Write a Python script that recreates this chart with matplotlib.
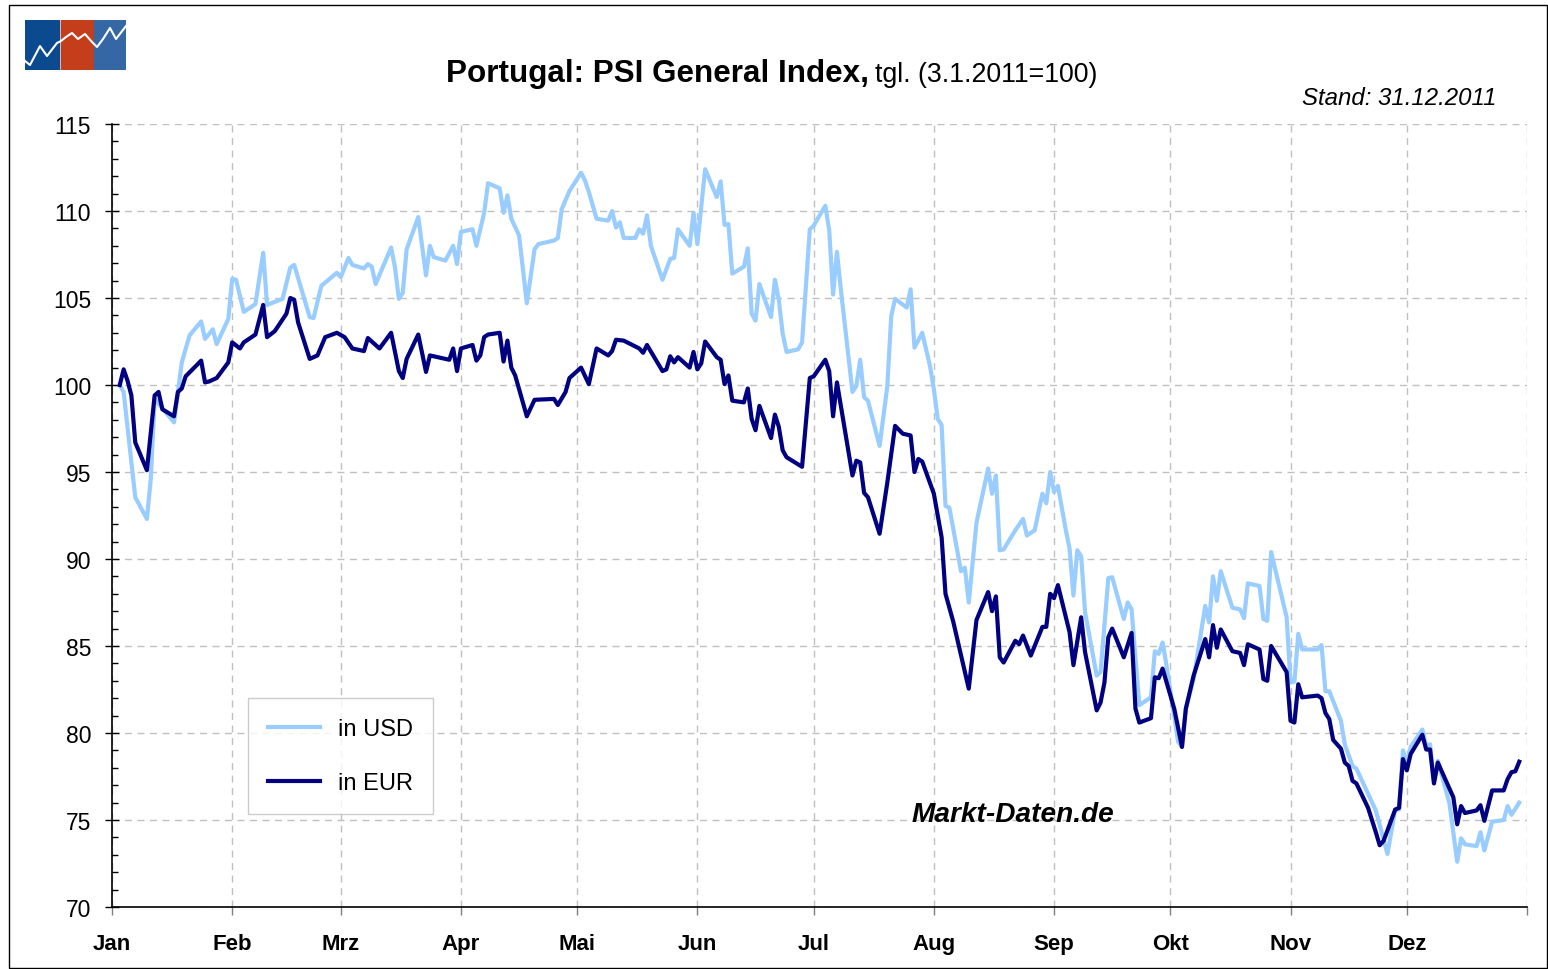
import numpy as np
import matplotlib
matplotlib.use('Agg')
import matplotlib.pyplot as plt
from matplotlib.patches import Rectangle

plt.rcParams['font.family'] = ['Liberation Sans', 'DejaVu Sans']

# day offsets from 1 Jan 2011 (3.1.2011 = 100)
usd_days = [2, 3, 6, 9, 10, 11, 16, 18, 20, 23, 24, 26, 27, 30, 31, 32, 34, 37, 39, 40,
            44, 46, 47, 51, 52, 54, 58, 59, 61, 62, 65, 66, 67, 68, 72, 73, 74, 75, 76, 79,
            81, 82, 83, 86, 88, 89, 90, 93, 94, 96, 97, 100, 101, 102, 103, 105, 107, 109, 110, 114,
            115, 116, 118, 121, 122, 123, 125, 128, 129, 130, 131, 132, 135, 136, 137, 138, 139, 142, 144, 145,
            146, 149, 150, 151, 153, 156, 157, 158, 159, 160, 163, 164, 165, 166, 167, 170, 171, 172, 173, 174,
            177, 178, 180, 181, 182, 184, 185, 186, 187, 188, 191, 192, 193, 194, 195, 198, 200, 201, 202, 205,
            206, 207, 209, 211, 212, 213, 214, 215, 216, 219, 220, 221, 223, 226, 227, 228, 229, 230, 233, 235,
            236, 238, 240, 241, 242, 243, 244, 246, 247, 248, 249, 250, 251, 254, 255, 257, 258, 261, 262, 263,
            265, 268, 269, 270, 271, 272, 275, 276, 277, 279, 282, 283, 284, 285, 286, 289, 291, 292, 293, 296,
            297, 298, 299, 303, 304, 305, 306, 307, 311, 312, 313, 314, 317, 318, 320, 321, 326, 329, 331, 332,
            333, 334, 335, 338, 339, 340, 341, 342, 345, 347, 348, 349, 352, 353, 354, 356, 359, 360, 361, 363]
usd = [100.0, 99.6, 93.55, 92.3, 94.6, 99.2, 97.85, 101.3, 102.85, 103.65, 102.65, 103.2, 102.35, 103.8, 106.1, 106.05, 104.2, 104.65, 107.6, 104.6,
       104.95, 106.75, 106.9, 103.9, 103.85, 105.7, 106.45, 106.2, 107.3, 106.9, 106.7, 106.95, 106.8, 105.8, 107.9, 106.75, 104.95, 105.3, 107.8, 109.65,
       106.3, 108.0, 107.35, 107.15, 108.0, 106.95, 108.8, 108.95, 108.0, 109.9, 111.6, 111.3, 109.9, 110.9, 109.55, 108.6, 104.7, 107.8, 108.1, 108.3,
       108.45, 110.1, 111.15, 112.2, 111.75, 111.1, 109.55, 109.45, 110.0, 109.05, 109.35, 108.45, 108.45, 108.95, 108.7, 109.75, 108.0, 106.05, 107.25, 107.3,
       108.95, 108.0, 109.9, 108.1, 112.4, 110.8, 111.7, 109.2, 109.25, 106.4, 106.8, 107.85, 104.1, 103.7, 105.8, 103.9, 106.05, 104.9, 102.95, 101.9,
       102.05, 102.45, 108.95, 109.15, 109.55, 110.3, 108.9, 105.2, 107.65, 105.5, 99.6, 99.95, 101.45, 99.3, 99.1, 96.5, 99.95, 103.95, 104.95, 104.45,
       105.5, 102.15, 103.0, 101.1, 99.75, 98.05, 97.7, 93.05, 92.95, 89.3, 89.5, 87.5, 92.1, 95.2, 93.75, 94.8, 90.5, 90.55, 91.65, 92.3,
       91.35, 91.65, 93.75, 93.2, 95.0, 93.85, 94.2, 91.7, 90.6, 87.9, 90.5, 90.15, 86.95, 83.3, 83.5, 88.9, 88.95, 86.55, 87.5, 87.1,
       81.6, 82.05, 84.7, 84.55, 85.2, 83.9, 79.5, 79.2, 81.4, 83.1, 87.3, 86.35, 89.0, 87.6, 89.3, 87.2, 87.1, 86.6, 88.6, 88.45,
       86.55, 86.45, 90.4, 86.65, 82.9, 82.95, 85.7, 84.8, 84.8, 85.05, 82.4, 82.4, 80.7, 79.35, 78.1, 77.95, 75.55, 73.05, 75.6, 75.6,
       79.0, 78.2, 79.2, 80.2, 79.25, 79.35, 77.2, 78.4, 75.95, 72.6, 73.95, 73.6, 73.5, 74.3, 73.25, 74.9, 75.0, 75.8, 75.3, 76.0]

eur_days = [2, 3, 4, 5, 6, 9, 11, 12, 13, 16, 17, 18, 19, 23, 24, 25, 27, 30, 31, 33,
            34, 37, 39, 40, 42, 45, 46, 47, 48, 51, 53, 55, 58, 60, 62, 65, 66, 67, 69, 72,
            74, 75, 76, 79, 81, 82, 87, 88, 89, 90, 93, 94, 95, 96, 97, 100, 101, 102, 103, 104,
            107, 109, 114, 115, 117, 118, 121, 123, 125, 128, 129, 130, 132, 136, 137, 138, 142, 143, 144, 145,
            146, 149, 150, 151, 152, 153, 156, 157, 158, 159, 160, 163, 164, 165, 166, 167, 170, 171, 172, 173,
            174, 178, 180, 181, 184, 185, 186, 187, 191, 192, 193, 194, 195, 198, 200, 202, 204, 206, 207, 208,
            209, 212, 214, 215, 217, 221, 223, 226, 227, 228, 229, 230, 233, 234, 235, 237, 240, 241, 242, 243,
            244, 247, 248, 250, 251, 254, 255, 256, 257, 258, 261, 263, 264, 265, 268, 269, 270, 271, 274, 276,
            277, 279, 282, 283, 284, 285, 286, 289, 291, 292, 293, 296, 297, 298, 299, 303, 304, 305, 306, 307,
            311, 312, 313, 314, 315, 317, 318, 319, 320, 321, 324, 326, 327, 328, 331, 332, 333, 334, 335, 338,
            339, 340, 341, 342, 346, 347, 348, 349, 352, 353, 354, 356, 359, 360, 361, 362, 363]
eur = [100.0, 100.9, 100.25, 99.4, 96.7, 95.1, 99.4, 99.6, 98.6, 98.2, 99.6, 99.8, 100.5, 101.4, 100.15, 100.2, 100.4, 101.3, 102.45, 102.1,
       102.45, 102.9, 104.6, 102.75, 103.1, 104.1, 105.0, 104.9, 103.6, 101.5, 101.7, 102.75, 103.0, 102.75, 102.1, 101.95, 102.7, 102.5, 102.1, 103.0,
       100.8, 100.4, 101.5, 102.9, 100.75, 101.7, 101.45, 102.1, 100.8, 102.1, 102.3, 101.4, 101.7, 102.75, 102.9, 103.0, 101.35, 102.55, 101.0, 100.55,
       98.2, 99.15, 99.2, 98.85, 99.6, 100.4, 101.0, 100.05, 102.1, 101.7, 101.95, 102.6, 102.55, 102.1, 101.85, 102.3, 100.8, 100.9, 101.65, 101.3,
       101.6, 101.0, 101.9, 100.9, 101.25, 102.5, 101.6, 101.45, 100.05, 100.55, 99.1, 99.0, 99.8, 98.05, 97.4, 98.8, 96.95, 98.3, 97.6, 96.25,
       95.85, 95.3, 100.4, 100.5, 101.45, 100.8, 98.2, 100.15, 94.8, 95.65, 95.55, 93.8, 93.55, 91.45, 94.4, 97.65, 97.2, 97.1, 95.0, 95.75,
       95.6, 93.75, 91.25, 88.0, 86.4, 82.55, 86.5, 88.1, 87.0, 87.85, 84.35, 84.05, 85.3, 85.1, 85.6, 84.45, 86.1, 86.1, 88.0, 87.75,
       88.5, 85.8, 83.9, 86.65, 84.65, 81.3, 81.75, 82.9, 85.5, 86.0, 84.35, 85.75, 81.4, 80.6, 80.85, 83.2, 83.15, 83.7, 81.4, 79.2,
       81.4, 83.3, 85.4, 84.35, 86.2, 84.9, 85.95, 84.7, 84.6, 83.9, 85.1, 84.8, 83.1, 83.0, 85.0, 83.5, 80.7, 80.6, 82.8, 82.05,
       82.15, 82.0, 81.15, 80.8, 79.6, 79.1, 78.3, 78.1, 77.25, 77.1, 75.7, 74.3, 73.55, 73.8, 75.6, 75.7, 78.5, 77.85, 78.8, 79.9,
       79.05, 79.05, 77.1, 78.3, 76.3, 74.75, 75.8, 75.4, 75.55, 75.85, 74.95, 76.7, 76.7, 77.35, 77.75, 77.8, 78.35]

months = ['Jan', 'Feb', 'Mrz', 'Apr', 'Mai', 'Jun', 'Jul', 'Aug', 'Sep', 'Okt', 'Nov', 'Dez']
yticks = [70, 75, 80, 85, 90, 95, 100, 105, 110, 115]

start = np.datetime64('2011-01-01')
usd_dates = start + np.array(usd_days, dtype='timedelta64[D]')
eur_dates = start + np.array(eur_days, dtype='timedelta64[D]')
month_starts = np.arange('2011-01', '2012-02', dtype='datetime64[M]').astype('datetime64[D]')

W, H = 1548, 970
fig = plt.figure(figsize=(W / 100, H / 100), dpi=100)
ax = fig.add_axes([112 / W, 1 - 908 / H, (1527 - 112) / W, (908 - 125) / H])

ax.plot(usd_dates, usd, color='#99CCFF', lw=3, label='in USD', zorder=3)
ax.plot(eur_dates, eur, color='#000080', lw=3, label='in EUR', zorder=4)

ax.set_xlim(month_starts[0], month_starts[-1])
ax.set_ylim(70, 115)
ax.set_yticks(yticks)
ax.set_yticks(np.arange(70, 116, 1), minor=True)
ax.set_xticks(month_starts)
ax.set_xticklabels(months + [''], fontweight='bold')
ax.tick_params(axis='y', which='major', direction='inout', length=10, width=1, labelsize=16.5, pad=10)
ax.tick_params(axis='y', which='minor', direction='in', length=4.5, width=1)
ax.tick_params(axis='x', which='major', direction='out', length=6, width=1, labelsize=16, pad=13, color='#808080')

ax.grid(True, which='major', color='#C0C0C0', linestyle=(0, (5, 4)), linewidth=1)
ax.set_axisbelow(True)
for s in ['top', 'right']:
    ax.spines[s].set_visible(False)
for s in ['left', 'bottom']:
    ax.spines[s].set_linewidth(1.2)

leg = ax.legend(loc='lower left', bbox_to_anchor=((248 - 112) / 1415, (908 - 815) / 783),
                fontsize=17, frameon=True, fancybox=False, edgecolor='#C0C0C0',
                handlelength=2.2, handletextpad=0.75, borderpad=0.85, labelspacing=1.35,
                borderaxespad=0)
leg.get_frame().set_linewidth(1)

fig.text(869 / W, 1 - 82 / H, 'Portugal: PSI General Index,', ha='right', va='baseline',
         fontsize=22.6, fontweight='bold')
fig.text(875 / W, 1 - 82 / H, 'tgl. (3.1.2011=100)', ha='left', va='baseline', fontsize=19.3)
fig.text(1496 / W, 1 - 105 / H, 'Stand: 31.12.2011', ha='right', va='baseline',
         fontsize=17.3, style='italic')
fig.text(911 / W, 1 - 822 / H, 'Markt-Daten.de', ha='left', va='baseline',
         fontsize=20.2, style='italic', fontweight='bold')

# outer frame
fig.add_artist(Rectangle((8.5 / W, 1.5 / H), (W - 10) / W, (H - 7) / H, transform=fig.transFigure,
                         fill=False, edgecolor='black', linewidth=1))

# logo
lax = fig.add_axes([25 / W, 1 - 71 / H, 101 / W, 50 / H])
lax.set_xlim(25, 126)
lax.set_ylim(71, 21)
lax.axis('off')
for x0, x1, c in [(25, 59, '#0B4A8E'), (60.5, 92.5, '#C43E1C'), (94, 126, '#3467A3')]:
    lax.add_patch(Rectangle((x0, 21), x1 - x0, 50, color=c))
zx = [25, 30, 40, 47, 57, 61, 66, 72, 78, 85, 92, 97, 103, 110, 116, 126]
zy = [62, 66, 47, 57, 44, 42, 38, 34, 40, 35, 43, 48, 40, 29, 40, 27]
lax.plot(zx, zy, color='white', lw=1.5)

fig.savefig('out.png', dpi=100)
